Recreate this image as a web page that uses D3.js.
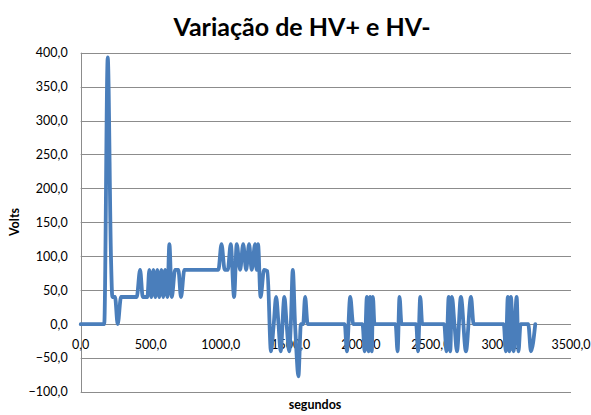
<!DOCTYPE html>
<html>
<head>
<meta charset="utf-8">
<script src="https://cdn.jsdelivr.net/npm/d3@7"></script>
<style>
  body { margin: 0; background: #fff; }
  text { font-family: Lato, "Liberation Sans", sans-serif; fill: #000; }
</style>
</head>
<body>
<svg id="chart"></svg>
<script>
// HV+ / HV- readings over time
const seconds = [
    0, 168, 193, 216, 226, 245, 264, 288, 400, 424, 443, 476,
    490, 504, 519, 533, 547, 561, 576, 590, 602, 619, 633, 650,
    674, 697, 716, 740, 983, 1005, 1028, 1050, 1071, 1095, 1114, 1138,
    1160, 1181, 1202, 1221, 1245, 1256, 1266, 1284, 1309, 1333, 1358, 1378,
    1395, 1412, 1427, 1454, 1470, 1488, 1500, 1514, 1530, 1540, 1554, 1572,
    1588, 1602, 1620, 1885, 1900, 1924, 1945, 2012, 2027, 2043, 2055, 2066,
    2078, 2086, 2097, 2248, 2262, 2276, 2290, 2395, 2408, 2424, 2438, 2595,
    2611, 2627, 2638, 2650, 2668, 2686, 2714, 2750, 2786, 2805, 3020, 3035,
    3049, 3060, 3071, 3090, 3112, 3125, 3140, 3195, 3214, 3245
];
const volts = [
    0, 0, 393, 100, 40, 40, 0, 40, 40, 80, 40, 40,
    80, 40, 80, 40, 80, 40, 80, 40, 80, 40, 118, 40,
    80, 80, 40, 80, 80, 118, 80, 80, 118, 40, 118, 80,
    118, 80, 118, 80, 118, 80, 118, 40, 80, 78, -40, 0,
    40, 0, -40, 40, 0, -40, 0, 80, 0, -40, -77, 0,
    0, 40, 0, 0, -40, 40, 0, 0, -40, 40, -40, 40,
    -40, 40, 0, 0, -40, 40, 0, 0, -40, 40, 0, 0,
    -40, 40, -40, 40, 0, -40, 40, -40, 40, 0, 0, -40,
    40, -40, 40, -40, 40, -40, 0, 0, -40, 0
];
const xTicks = [0, 500, 1000, 1500, 2000, 2500, 3000, 3500];
const yTicks = [-100, -50, 0, 50, 100, 150, 200, 250, 300, 350, 400];

const title = 'Variação de HV+ e HV-';
const xTitle = 'segundos';
const yTitle = 'Volts';

const width = 591;
const height = 415;
const margin = { top: 52.7, right: 20, bottom: 23, left: 80.7 };

const ptBR = d3.formatLocale({ decimal: ',', thousands: '.', grouping: [3], currency: ['', ''] });
const fmt = ptBR.format('.1f');

const svg = d3
    .select('#chart')
    .attr('width', width)
    .attr('height', height);

const x = d3.scaleLinear()
    .domain([0, 3500])
    .range([margin.left, width - margin.right]);

const y = d3.scaleLinear()
    .domain([-100, 400])
    .range([height - margin.bottom, margin.top]);

// horizontal gridlines
svg.append('g')
    .selectAll('line')
    .data(yTicks)
    .enter()
    .append('line')
    .attr('x1', x(0))
    .attr('x2', x(3500))
    .attr('y1', (d) => Math.round(y(d)) + 0.5)
    .attr('y2', (d) => Math.round(y(d)) + 0.5)
    .style('stroke', '#8c8c8c')
    .style('stroke-width', '1px');

// vertical axis line
svg.append('line')
    .attr('x1', Math.round(x(0)) + 0.5)
    .attr('x2', Math.round(x(0)) + 0.5)
    .attr('y1', y(400))
    .attr('y2', y(-100))
    .style('stroke', '#8c8c8c');

// y tick labels
svg.append('g')
    .selectAll('text')
    .data(yTicks)
    .enter()
    .append('text')
    .attr('x', x(0) - 13)
    .attr('y', (d) => y(d))
    .attr('dy', '0.35em')
    .attr('text-anchor', 'end')
    .style('font-size', '12.5px')
    .text((d) => fmt(d));

// x tick labels sit under the zero line
svg.append('g')
    .selectAll('text')
    .data(xTicks)
    .enter()
    .append('text')
    .attr('x', (d) => x(d))
    .attr('y', y(0) + 25)
    .attr('text-anchor', 'middle')
    .style('font-size', '12.5px')
    .text((d) => fmt(d));

const points = seconds.map((s, i) => [s, volts[i]]);

const line = d3.line()
    .x((d) => x(d[0]))
    .y((d) => y(d[1]))
    .curve(d3.curveMonotoneX);

svg.append('path')
    .datum(points)
    .attr('d', line)
    .style('fill', 'none')
    .style('stroke', '#4a7ebb')
    .style('stroke-width', '3.8px')
    .style('stroke-linejoin', 'round')
    .style('stroke-linecap', 'round');

// titles
const t = svg.append('text')
    .attr('x', 302)
    .attr('y', 36)
    .attr('text-anchor', 'middle')
    .style('font-size', '24px')
    .style('font-weight', 'bold')
    .text(title);
const w = t.node().getComputedTextLength();
t.style('font-size', (24 * 257 / w).toFixed(1) + 'px');

svg.append('text')
    .attr('x', 315)
    .attr('y', 409)
    .attr('text-anchor', 'middle')
    .style('font-size', '12.5px')
    .style('font-weight', 'bold')
    .text(xTitle);

svg.append('text')
    .attr('transform', 'translate(19,222) rotate(-90)')
    .attr('text-anchor', 'middle')
    .style('font-size', '12.5px')
    .style('font-weight', 'bold')
    .text(yTitle);
</script>
</body>
</html>
